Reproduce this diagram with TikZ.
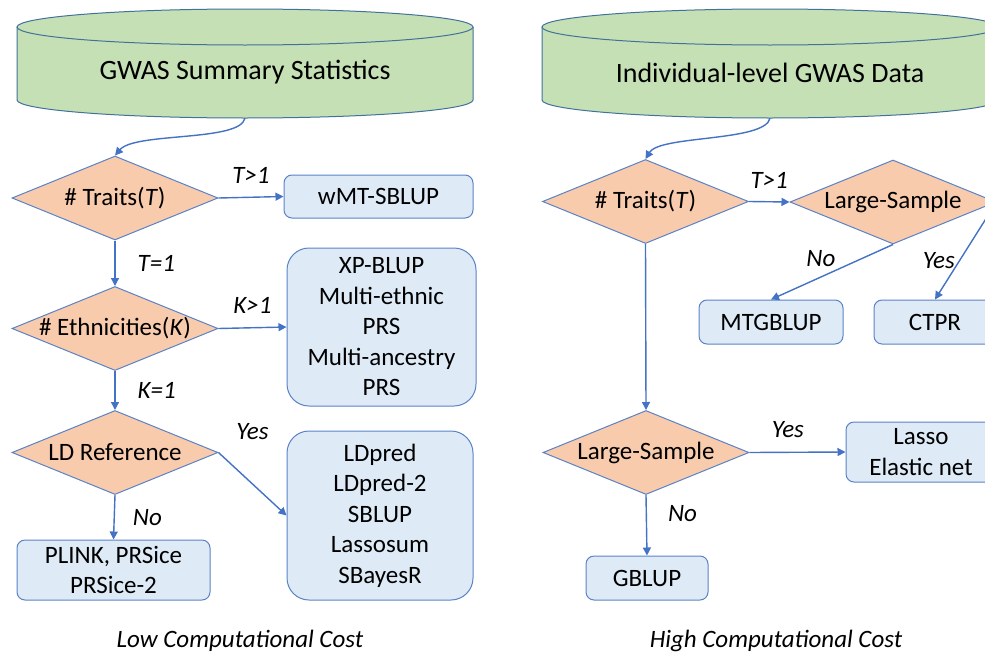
\documentclass[tikz,border=0pt]{standalone}
\usepackage{fontspec}
\setmainfont{Carlito}
\usetikzlibrary{shapes.geometric,arrows.meta}

\definecolor{cylfill}{HTML}{C5E0B4}
\definecolor{cylline}{HTML}{41719C}
\definecolor{diafill}{HTML}{F8CBAD}
\definecolor{boxfill}{HTML}{DEEBF7}
\definecolor{shapeline}{HTML}{5B82C6}
\definecolor{flowblue}{HTML}{4472C4}

\newcommand{\flowfont}{\fontsize{25}{30.5}\selectfont}
\newcommand{\cylfont}{\fontsize{28}{32}\selectfont}

\tikzset{
    decision/.style={diamond,draw=shapeline,fill=diafill,line width=1pt,inner xsep=-30pt,inner ysep=0pt,aspect=2.47,minimum width=206pt,minimum height=84pt},
    methodbox/.style={rectangle,rounded corners=8pt,draw=shapeline,fill=boxfill,line width=1pt,inner sep=0pt,align=center},
    listbox/.style={methodbox,rounded corners=22pt},
    cond/.style={font=\flowfont\itshape,inner sep=2pt},
    flow/.style={->,draw=flowblue,line width=1.4pt}
}

\begin{document}
\begin{tikzpicture}[x=1pt,y=-1pt,font=\flowfont,>={Triangle[length=8pt,width=8pt]}]
            \useasboundingbox (0,0) rectangle (985,656);
            \clip (0,0) rectangle (985,656);

            \foreach \cx/\nm/\txt in {245/sumstat/GWAS Summary Statistics,770/indiv/Individual-level GWAS Data}
            {
                \draw[cylline,line width=1pt,fill=cylfill] (\cx-228,27) -- (\cx-228,100) arc[start angle=180,end angle=360,x radius=228pt,y radius=18pt] -- (\cx+228,27);
                \draw[cylline,line width=1pt,fill=cylfill] (\cx,27) ellipse[x radius=228pt,y radius=18pt];
                \node[font=\cylfont,minimum width=456pt,minimum height=91pt,inner sep=0pt] (\nm) at (\cx,72.5) {\txt};
            }

            \node[decision] (traitsA) at (115,198) {\# Traits(\textit{T})};
            \node[methodbox,minimum width=189pt,minimum height=43pt] (wmt) at (378.5,196.5) {wMT-SBLUP};
            \node[decision] (ethn) at (115,328.5) {\# Ethnicities(\textit{K})};
            \node[listbox,minimum width=189pt,minimum height=158pt] (multi) at (381.5,327) {XP-BLUP\\Multi-ethnic\\PRS\\Multi-ancestry\\PRS};
            \node[decision] (ldref) at (115,452.5) {LD Reference};
            \node[listbox,minimum width=186pt,minimum height=169pt] (ldlist) at (380,515.5) {LDpred\\LDpred-2\\SBLUP\\Lassosum\\SBayesR};
            \node[methodbox,minimum width=193pt,minimum height=60pt] (plink) at (113.5,570) {PLINK, PRSice\\PRSice-2};

            \node[decision] (traitsB) at (645.5,201.5) {\# Traits(\textit{T})};
            \node[decision] (largeA) at (893,202) {Large-Sample};
            \node[methodbox,minimum width=144pt,minimum height=44pt] (mtg) at (771,322) {MTGBLUP};
            \node[methodbox,minimum width=122pt,minimum height=44pt] (ctpr) at (935,322) {CTPR};
            \node[decision] (largeB) at (646,452.5) {Large-Sample};
            \node[methodbox,minimum width=150pt,minimum height=60pt] (lasso) at (921,452) {Lasso\\Elastic net};
            \node[methodbox,minimum width=122pt,minimum height=44pt] (gblup) at (647,578) {GBLUP};

            \draw[flow] (sumstat.south) .. controls (240,142) and (135,132) .. (traitsA.north);
            \draw[flow] (traitsA.east) -- node[cond,above=11pt]{T>1} (wmt.west);
            \draw[flow] (traitsA.south) -- node[cond,right=20pt]{T=1} (ethn.north);
            \draw[flow] (ethn.east) -- node[cond,above=12pt]{K>1} (multi.west);
            \draw[flow] (ethn.south) -- node[cond,right=20pt]{K=1} (ldref.north);
            \draw[flow] (ldref.east) -- node[cond,above=42pt]{Yes} (ldlist.west);
            \draw[flow] (ldref.south) -- node[cond,right=16pt]{No} (plink.north);

            \draw[flow] (indiv.south) .. controls (765,142) and (660,135) .. (traitsB.north);
            \draw[flow] (traitsB.east) -- node[cond,above=11pt]{T>1} (largeA.west);
            \draw[flow] (largeA.south) -- node[cond,pos=.45,above left]{No} (mtg.north);
            \draw[flow] (largeA.east) -- node[cond,pos=.6,left=2pt]{Yes} (ctpr.north);
            \draw[flow] (traitsB.south) -- (largeB.north);
            \draw[flow] (largeB.east) -- node[cond,pos=.4,above=12pt]{Yes} (lasso.west);
            \draw[flow] (largeB.south) -- node[cond,pos=.3,right=19pt]{No} (gblup.north);

            \node[cond] (lowcost) at (240,641) {Low Computational Cost};
            \node[cond] (highcost) at (776,641) {High Computational Cost};
        \end{tikzpicture}
\end{document}
